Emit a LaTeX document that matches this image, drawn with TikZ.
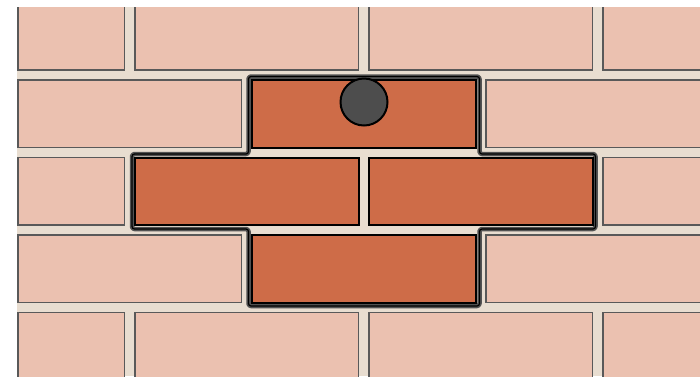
\documentclass[tikz,border=0pt]{standalone}
\definecolor{mortar}{RGB}{232,221,208}
\definecolor{lightbrick}{RGB}{235,193,176}
\definecolor{redbrick}{RGB}{206,108,72}
\definecolor{holefill}{RGB}{77,77,77}
\tikzset{
  plainbrick/.style={fill=lightbrick,draw=black!65,line width=1.1pt},
  hotbrick/.style={fill=redbrick,draw=black,line width=2pt},
  selbandouter/.style={draw=black!68,line width=4.5pt,rounded corners=2.5pt,line join=round},
  selbandinner/.style={draw=black,line width=1.2pt,rounded corners=2.5pt,line join=round},
  holedot/.style={fill=holefill,draw=black,line width=2pt}
}
\begin{document}
\begin{tikzpicture}[x=1pt,y=-1pt]
\useasboundingbox (0,0) rectangle (700,376);
\fill[white] (0,0) rectangle (700,376);
\begin{scope}
\clip (17,7) rectangle (700,376);
\fill[mortar] (17,7) rectangle (700,376);
% odd rows (1,3,5)
\foreach \t in {2.5,157.5,312.5}{
  \draw[plainbrick] (18,\t) rectangle ++(106.5,67.5);
  \foreach \x in {135,369,603}{
    \draw[plainbrick] (\x,\t) rectangle ++(223.5,67.5);
  }
}
% even rows (2,4)
\foreach \t in {80,235}{
  \foreach \x in {18,252,486}{
    \draw[plainbrick] (\x,\t) rectangle ++(223.5,67.5);
  }
}
% selection area
\fill[mortar] (248.5,76.5) -- (479.5,76.5) -- (479.5,154) -- (595.5,154) -- (595.5,229) -- (479.5,229) -- (479.5,306) -- (248.5,306) -- (248.5,229) -- (132,229) -- (132,154) -- (248.5,154) -- cycle;
\draw[selbandouter] (248.5,76.5) -- (479.5,76.5) -- (479.5,154) -- (595.5,154) -- (595.5,229) -- (479.5,229) -- (479.5,306) -- (248.5,306) -- (248.5,229) -- (132,229) -- (132,154) -- (248.5,154) -- cycle;
\draw[selbandinner] (248.5,76.5) -- (479.5,76.5) -- (479.5,154) -- (595.5,154) -- (595.5,229) -- (479.5,229) -- (479.5,306) -- (248.5,306) -- (248.5,229) -- (132,229) -- (132,154) -- (248.5,154) -- cycle;
% highlighted bricks
\draw[hotbrick] (252,80) rectangle ++(223.5,67.5);
\draw[hotbrick] (135,157.5) rectangle ++(223.5,67.5);
\draw[hotbrick] (369,157.5) rectangle ++(223.5,67.5);
\draw[hotbrick] (252,235) rectangle ++(223.5,67.5);
% hole
\draw[holedot] (364,102) circle (23.5);
\end{scope}
\end{tikzpicture}
\end{document}
